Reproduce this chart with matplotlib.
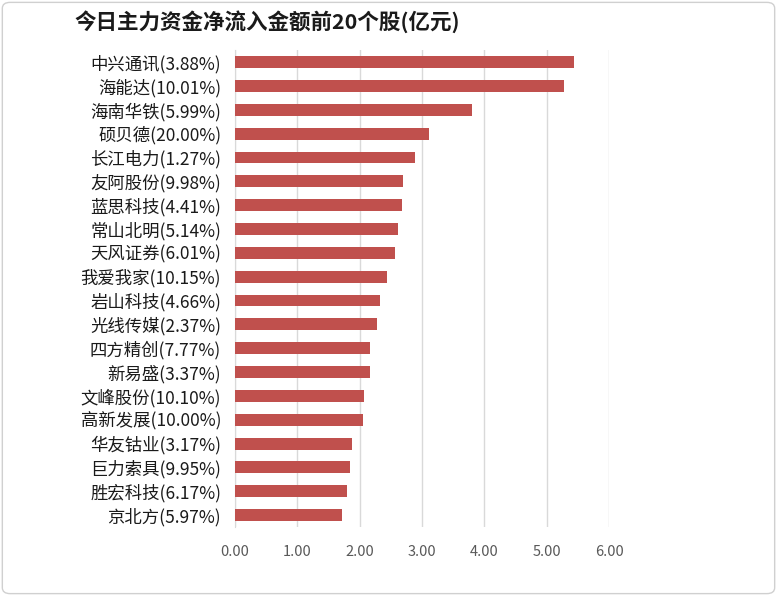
import matplotlib
matplotlib.use('Agg')
import matplotlib.pyplot as plt
from matplotlib.patches import FancyBboxPatch

plt.rcParams['font.family'] = ['Noto Sans CJK SC', 'DejaVu Sans']

# Data (top to bottom)
stocks = ['中兴通讯(3.88%)', '海能达(10.01%)', '海南华铁(5.99%)', '硕贝德(20.00%)',
          '长江电力(1.27%)', '友阿股份(9.98%)', '蓝思科技(4.41%)', '常山北明(5.14%)',
          '天风证券(6.01%)', '我爱我家(10.15%)', '岩山科技(4.66%)', '光线传媒(2.37%)',
          '四方精创(7.77%)', '新易盛(3.37%)', '文峰股份(10.10%)', '高新发展(10.00%)',
          '华友钴业(3.17%)', '巨力索具(9.95%)', '胜宏科技(6.17%)', '京北方(5.97%)']
inflow = [5.43, 5.28, 3.80, 3.11, 2.89, 2.70, 2.67, 2.62, 2.56, 2.44,
          2.33, 2.28, 2.17, 2.17, 2.07, 2.06, 1.88, 1.85, 1.80, 1.71]
xticks = [0, 1, 2, 3, 4, 5, 6]

fig = plt.figure(figsize=(7.77, 5.96), dpi=100)
ax = fig.add_axes([0.3025, 0.1158, 0.4815, 0.8])

ypos = list(range(len(stocks)))
ax.barh(ypos, inflow, height=0.5, color='#c0504d', zorder=3)
ax.set_ylim(len(stocks) - 0.5, -0.5)
ax.set_xlim(0, 6)

ax.set_yticks(ypos)
ax.set_yticklabels(stocks, fontsize=12.5, color='#1a1a1a')
ax.set_xticks(xticks)
ax.set_xticklabels([f'{v:.2f}' for v in xticks], fontsize=10.5, color='#595959')
ax.tick_params(axis='both', length=0)
ax.tick_params(axis='x', pad=13)
ax.tick_params(axis='y', pad=10)

ax.grid(axis='x', color='#d9d9d9', linewidth=1, zorder=0)
for s in ['top', 'right', 'bottom']:
    ax.spines[s].set_visible(False)
ax.spines['left'].set_color('#d9d9d9')

fig.text(0.096, 0.963, '今日主力资金净流入金额前20个股(亿元)', fontsize=15.5,
         fontweight='bold', color='#1a1a1a', va='center', ha='left')

# light outer border
border = FancyBboxPatch((0.003, 0.004), 0.994, 0.992, boxstyle='round,pad=0,rounding_size=0.01',
                        transform=fig.transFigure, fill=False, edgecolor='#d0d0d0', linewidth=1)
fig.patches.append(border)

fig.savefig('out.png', dpi=100)
